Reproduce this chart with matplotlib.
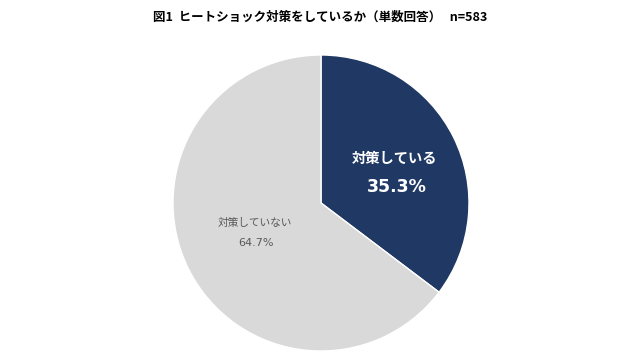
import matplotlib.pyplot as plt

plt.rcParams['font.family'] = ['Noto Sans CJK JP', 'DejaVu Sans']

# データ
labels = ["対策している", "対策していない"]
values = [35.3, 64.7]
colors = ["#203864", "#D9D9D9"]

fig = plt.figure(figsize=(6.4, 3.6), dpi=100)
fig.patch.set_facecolor("white")

# 円グラフ（中心 x=321px, y=203px, 半径 148px）
ax = fig.add_axes([(321 - 148) / 640, (360 - 203 - 148) / 360, 296 / 640, 296 / 360])
wedges, _ = ax.pie(
    values,
    colors=colors,
    startangle=90,
    counterclock=False,
    radius=1.0,
    wedgeprops=dict(edgecolor="white", linewidth=1.0),
)
ax.set_xlim(-1, 1)
ax.set_ylim(-1, 1)
ax.set_aspect("equal")
ax.axis("off")

# ラベル
num_font = ['DejaVu Sans', 'Noto Sans CJK JP']
ax.text(0.50, 0.30, labels[0], ha="center", va="center",
        color="white", fontsize=10.3, fontweight="bold")
ax.text(0.51, 0.11, f"{values[0]:.1f}%", ha="center", va="center",
        color="white", fontsize=12.5, fontweight="bold", family=num_font)

ax.text(-0.445, -0.135, labels[1], ha="center", va="center",
        color="#595959", fontsize=7.7)
ax.text(-0.44, -0.27, f"{values[1]:.1f}%", ha="center", va="center",
        color="#595959", fontsize=8, family=num_font)

# タイトル
fig.text(0.5, 1 - 17 / 360, "図1  ヒートショック対策をしているか（単数回答）   n=583",
         ha="center", va="center", fontsize=9, fontweight="bold", color="black")

fig.savefig("out.png", dpi=100)
